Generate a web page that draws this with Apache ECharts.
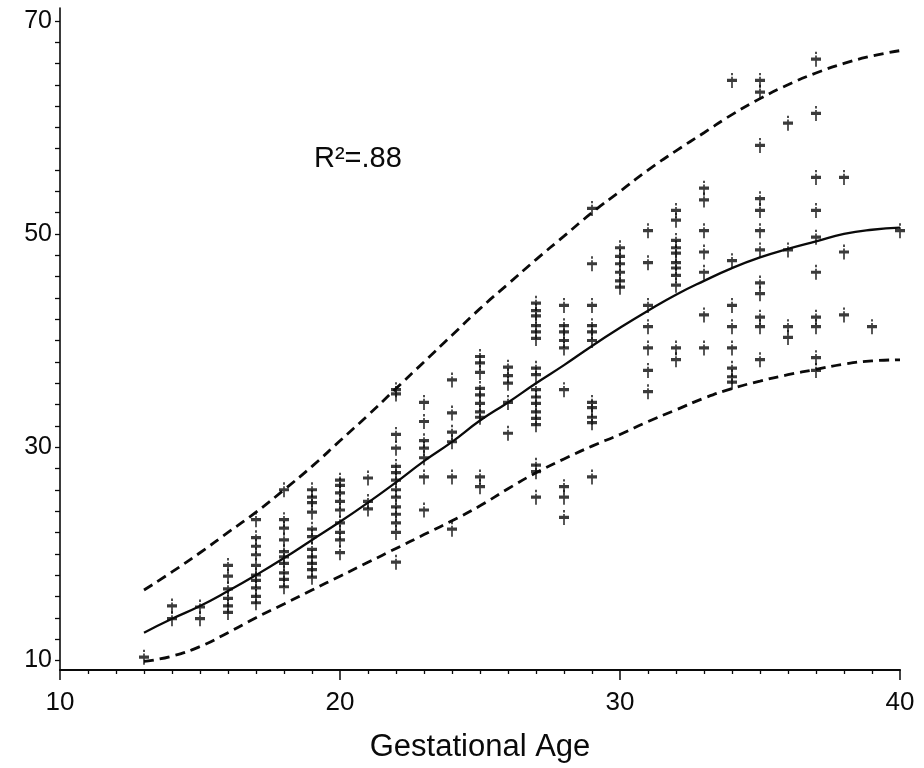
<!DOCTYPE html>
<html>
<head>
<meta charset="utf-8">
<script src="https://cdn.jsdelivr.net/npm/echarts@6/dist/echarts.min.js"></script>
<style>
html,body{margin:0;padding:0;background:#fff;}
#chart{width:924px;height:768px;}
</style>
</head>
<body>
<div id="chart"></div>
<script>
// Gestational ages for fitted curves
const curveAges = [13,14,15,16,17,18,19,20,21,22,23,24,25,26,27,28,29,30,31,32,33,34,35,36,37,38,39,40];
const fitMean  = [12.6,13.9,15.1,16.5,18.0,19.6,21.3,23.0,24.8,26.7,28.7,30.5,32.5,34.2,36.0,37.7,39.5,41.2,42.8,44.3,45.6,46.8,47.8,48.6,49.3,50.0,50.4,50.6];
const fitUpper = [16.6,18.3,20.1,22.0,23.9,26.0,28.2,30.6,33.0,35.5,38.0,40.5,43.0,45.3,47.6,49.8,52.0,54.0,56.0,57.8,59.5,61.2,62.7,64.0,65.1,66.0,66.7,67.2];
const fitLower = [9.9,10.4,11.3,12.6,14.0,15.3,16.6,17.9,19.2,20.5,21.8,23.1,24.5,26.1,27.6,28.9,30.1,31.2,32.4,33.5,34.6,35.5,36.2,36.8,37.3,37.8,38.1,38.2];

// Observations grouped by gestational age
const obsAges = [13,14,15,16,17,18,19,20,21,22,23,24,25,26,27,28,29,30,31,32,33,34,35,36,37,38,39,40];
const obsValues = [
  [10.3],
  [15.1,13.9],
  [15.0,13.9],
  [18.9,17.9,16.7,15.8,15.1,14.5],
  [23.2,21.5,20.7,19.9,18.9,18.0,17.5,16.8,16.0,15.4],
  [26.0,23.2,22.4,21.3,20.2,19.7,19.1,18.2,17.6,16.9],
  [26.0,25.3,24.8,23.9,22.3,21.6,20.4,19.7,19.1,18.5,17.8],
  [26.9,26.4,25.7,24.9,24.1,22.9,22.0,21.3,20.1],
  [27.1,24.9,24.2],
  [35.4,35.0,31.2,29.9,28.2,27.6,26.9,26.0,25.3,24.4,23.7,22.9,22.0,19.2],
  [34.2,32.4,30.6,29.9,29.0,27.2,24.1],
  [36.3,33.2,31.4,30.5,27.2,22.3],
  [38.5,37.9,37.0,35.5,34.9,34.1,33.3,32.8,27.2,26.3],
  [37.5,36.7,36.0,34.2,31.3],
  [43.5,42.8,42.3,41.4,40.8,40.2,37.4,36.8,35.4,34.7,34.1,33.3,32.7,32.1,28.3,27.7,25.3],
  [43.3,41.4,40.8,40.0,39.3,35.4,26.3,25.3,23.4],
  [52.4,47.2,43.3,41.4,40.8,40.0,34.2,33.7,32.8,32.3,27.2],
  [48.7,47.9,47.2,46.4,45.6,45.0],
  [50.3,47.3,43.3,41.3,39.3,37.2,35.2],
  [52.2,51.3,49.4,48.7,48.2,47.3,46.8,46.1,45.2,39.3,38.2],
  [54.3,53.2,50.3,48.3,46.4,42.4,39.3],
  [64.4,47.5,43.3,41.3,39.3,37.4,36.6,36.1],
  [64.4,63.3,58.3,53.3,52.2,50.3,48.5,45.4,44.4,42.2,41.3,38.2],
  [60.4,48.5,41.3,40.3],
  [66.4,61.3,55.3,52.2,49.7,46.4,42.2,41.3,38.4,37.2],
  [55.3,48.3,42.4],
  [41.3],
  [50.3]
];

// Axis ticks / labels
const xTickLabels = [10,20,30,40];
const yTickLabels = [10,30,50,70];
const yMinorTicks = [10,12,14,16,18,20,22,24,26,28,30,32,34,36,38,40,42,44,46,48,50,52,54,56,58,60,62,64,66,68,70];
const annotation = 'R\u00B2=.88';
const xTitle = 'Gestational Age';

const scatterData = [];
obsAges.forEach((a, i) => obsValues[i].forEach(v => scatterData.push([a, v])));
const pair = arr => curveAges.map((a, i) => [a, arr[i]]);

const ink = '#0a0a0a';
const font = '"Liberation Sans", Arial, Helvetica, sans-serif';
const plusPath = 'path://M4.1 0H5.9V2.2H4.1Z M4.15 3.6H5.85V5.4H10V8.4H5.85V14H4.15V8.4H0V5.4H4.15Z';

const chart = echarts.init(document.getElementById('chart'), null, {renderer: 'canvas'});
chart.setOption({
  backgroundColor: '#fff',
  animation: false,
  grid: {left: 60, right: 24, top: 8, bottom: 98, containLabel: false},
  xAxis: {
    type: 'value', min: 10, max: 40, interval: 10,
    name: xTitle, nameLocation: 'middle', nameGap: 62,
    nameTextStyle: {fontSize: 31, color: ink, fontFamily: font},
    axisLine: {show: true, lineStyle: {color: ink, width: 2.2}},
    axisTick: {show: true, length: 10, lineStyle: {color: ink, width: 1.5}},
    minorTick: {show: true, splitNumber: 10, length: 4, lineStyle: {color: ink, width: 1.3}},
    axisLabel: {fontSize: 26, color: ink, fontFamily: font, margin: 20,
      customValues: xTickLabels},
    splitLine: {show: false}, minorSplitLine: {show: false}
  },
  yAxis: {
    type: 'value', min: 9.1, max: 71.2,
    axisLine: {show: true, onZero: false, lineStyle: {color: ink, width: 1.6}},
    axisTick: {show: true, length: 5, customValues: yMinorTicks, lineStyle: {color: ink, width: 1.3}},
    axisLabel: {fontSize: 25, color: ink, fontFamily: font, margin: 8, customValues: yTickLabels},
    splitLine: {show: false}
  },
  graphic: [{
    type: 'text', left: 314, top: 144,
    style: {text: annotation, fontSize: 29, fill: ink, fontFamily: font}
  }],
  series: [
    {type: 'line', data: pair(fitUpper), smooth: true, showSymbol: false, silent: true,
      lineStyle: {color: ink, width: 2.8, type: [10, 6]}},
    {type: 'line', data: pair(fitLower), smooth: true, showSymbol: false, silent: true,
      lineStyle: {color: ink, width: 2.8, type: [10, 6]}},
    {type: 'line', data: pair(fitMean), smooth: true, showSymbol: false, silent: true,
      lineStyle: {color: ink, width: 2.3}},
    {type: 'scatter', data: scatterData, symbol: plusPath, symbolSize: [10, 15],
      itemStyle: {color: ink}, silent: true}
  ]
});
</script>
</body>
</html>
